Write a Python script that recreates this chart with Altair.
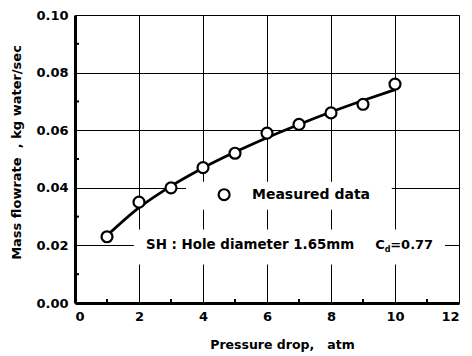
import altair as alt
import pandas as pd

# measured points
px = [1, 2, 3, 4, 5, 6, 7, 8, 9, 10]
py = [0.023, 0.035, 0.040, 0.047, 0.052, 0.059, 0.062, 0.066, 0.069, 0.076]

# fitted curve (Cd = 0.77)
cx = [1, 2, 3, 4, 5, 6, 7, 8, 9, 10]
cy = [0.0234, 0.0331, 0.0406, 0.0469, 0.0524, 0.0574, 0.0620, 0.0663, 0.0703, 0.0741]

x_ticks = [0, 2, 4, 6, 8, 10, 12]
y_ticks = [0.00, 0.02, 0.04, 0.06, 0.08, 0.10]
x_minor = [1, 3, 5, 7, 9, 11]
y_minor = [0.01, 0.03, 0.05, 0.07, 0.09]

FONT = "DejaVu Sans"
NB = "\u00a0"

pts = pd.DataFrame({"x": px, "y": py})
curve = pd.DataFrame({"x": cx, "y": cy})

xs = alt.Scale(domain=[0, 12], nice=False)
ys = alt.Scale(domain=[0, 0.1], nice=False)

xax = alt.Axis(values=x_ticks, format="d", grid=True, gridColor="black", gridOpacity=1, gridWidth=1,
               ticks=False, labelPadding=7, labelFont=FONT, labelFontWeight="bold", labelFontSize=13,
               labelColor="black", domainColor="black", domainWidth=3,
               title="Pressure drop," + NB * 3 + "atm", titleFont=FONT, titleFontWeight="bold",
               titleFontSize=12.5, titleColor="black", titleX=207, titleY=41, titleBaseline="middle",
               titleAnchor="middle")
yax = alt.Axis(values=y_ticks, format=".2f", grid=True, gridColor="black", gridOpacity=1, gridWidth=1,
               ticks=False, labelPadding=7, labelFont=FONT, labelFontWeight="bold", labelFontSize=13,
               labelColor="black", domainColor="black", domainWidth=3,
               title="Mass flowrate" + NB * 2 + ", kg water/sec", titleFont=FONT, titleFontWeight="bold",
               titleFontSize=13, titleColor="black", titleX=-59, titleY=137, titleBaseline="middle",
               titleAnchor="middle")

base = alt.Chart(curve)

# white boxes behind the annotation text (interrupt grid)
boxes = pd.DataFrame({"x": [3.47, 1.84], "x2": [9.9, 11.56], "y": [0.0324, 0.0134], "y2": [0.0421, 0.0255]})
box = alt.Chart(boxes).mark_rect(color="white").encode(
    x=alt.X("x:Q", scale=xs, axis=xax), x2="x2:Q",
    y=alt.Y("y:Q", scale=ys, axis=yax), y2="y2:Q")

line = base.mark_line(color="black", strokeWidth=2.8, interpolate="monotone").encode(
    x=alt.X("x:Q", scale=xs), y=alt.Y("y:Q", scale=ys))

points = alt.Chart(pts).mark_point(shape="circle", size=120, filled=True, fill="white",
                                    stroke="black", strokeWidth=2.2, opacity=1).encode(
    x=alt.X("x:Q", scale=xs), y=alt.Y("y:Q", scale=ys))

xm = alt.Chart(pd.DataFrame({"x": x_minor})).mark_rule(color="black", strokeWidth=2).encode(
    x=alt.X("x:Q", scale=xs), y=alt.value(288), y2=alt.value(284))
ym = alt.Chart(pd.DataFrame({"y": y_minor})).mark_rule(color="black", strokeWidth=2).encode(
    y=alt.Y("y:Q", scale=ys), x=alt.value(0), x2=alt.value(4))

leg_pt = alt.Chart(pd.DataFrame({"x": [4.66], "y": [0.0376]})).mark_point(
    shape="circle", size=120, filled=True, fill="white", stroke="black", strokeWidth=2.2, opacity=1).encode(
    x=alt.X("x:Q", scale=xs), y=alt.Y("y:Q", scale=ys))

labels = pd.DataFrame({
    "x": [5.53, 2.22],
    "y": [0.0376, 0.0200],
    "t": ["Measured data", "SH : Hole diameter 1.65mm"],
    "s": [14, 13.4],
})
txt = alt.Chart(labels).mark_text(align="left", baseline="middle", font=FONT, fontWeight="bold",
                                  color="black").encode(
    x=alt.X("x:Q", scale=xs), y=alt.Y("y:Q", scale=ys), text="t:N",
    size=alt.Size("s:Q", scale=None, legend=None))

cmain = alt.Chart(pd.DataFrame({"x": [9.38], "y": [0.0200], "t": ["C"]})).mark_text(
    align="left", baseline="middle", font=FONT, fontWeight="bold", fontSize=13, color="black").encode(
    x=alt.X("x:Q", scale=xs), y=alt.Y("y:Q", scale=ys), text="t:N")
sub = alt.Chart(pd.DataFrame({"x": [9.68], "y": [0.0200], "t": ["d"]})).mark_text(
    align="left", baseline="top", font=FONT, fontWeight="bold", fontSize=8, color="black", dy=1).encode(
    x=alt.X("x:Q", scale=xs), y=alt.Y("y:Q", scale=ys), text="t:N")
rest = alt.Chart(pd.DataFrame({"x": [9.85], "y": [0.0200], "t": ["=0.77"]})).mark_text(
    align="left", baseline="middle", font=FONT, fontWeight="bold", fontSize=13, color="black").encode(
    x=alt.X("x:Q", scale=xs), y=alt.Y("y:Q", scale=ys), text="t:N")

chart = alt.layer(box, line, points, xm, ym, leg_pt, txt, cmain, sub, rest).properties(
    width=384, height=288,
    autosize=alt.AutoSizeParams(type="none"),
    padding={"left": 67, "top": 7, "right": 1, "bottom": 50},
).configure_view(stroke="black", strokeWidth=1.5).configure(background="white")

chart.save("out.html", embed_options={"renderer": "svg", "actions": False})
